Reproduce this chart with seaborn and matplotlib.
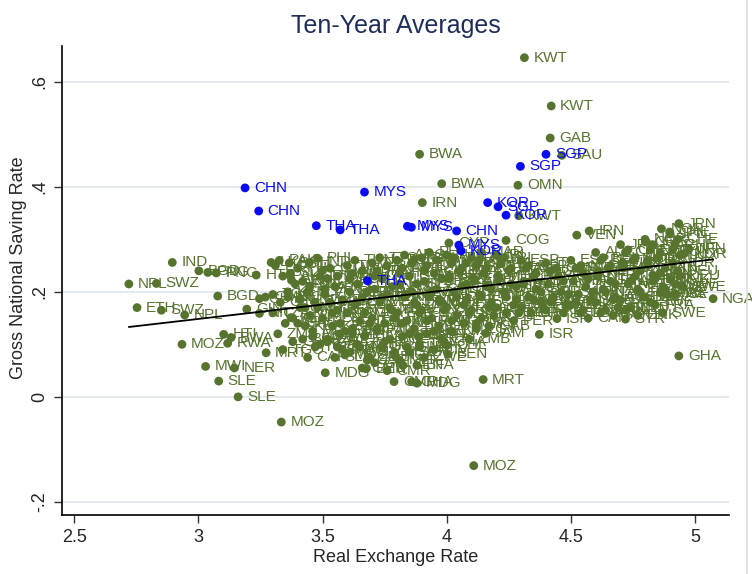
import numpy as np
import pandas as pd
import matplotlib
matplotlib.use("Agg")
import matplotlib.pyplot as plt
from matplotlib.lines import Line2D
import seaborn as sns

# highlighted (blue) economies
hi_codes = ["CHN", "CHN", "THA", "THA", "MYS", "MYS", "MYS", "THA",
            "CHN", "MYS", "KOR", "KOR", "SGP", "KOR", "SGP", "SGP"]
hi_rer = [3.188, 3.243, 3.475, 3.571, 3.669, 3.842, 3.858, 3.681,
          4.040, 4.049, 4.058, 4.165, 4.207, 4.239, 4.297, 4.400]
hi_sav = [0.398, 0.354, 0.326, 0.318, 0.390, 0.325, 0.323, 0.221,
          0.316, 0.289, 0.278, 0.370, 0.362, 0.346, 0.439, 0.462]

# labelled outliers, low exchange rate side
low_codes = ["NPL", "SWZ", "ETH", "SWZ", "NPL", "IND", "BGD", "PNG", "PNG", "HTI",
             "BGD", "MOZ", "HTI", "RWA", "BWA", "MRT", "MWI", "NER", "SLE", "SLE",
             "MOZ", "SLV", "GIN", "NIC", "KEN", "LKA", "PAK", "BOL", "HND", "PHL",
             "GUY", "GMB", "TGO"]
low_rer = [2.720, 2.831, 2.753, 2.851, 2.945, 2.895, 3.002, 3.038, 3.072, 3.233,
           3.078, 2.934, 3.102, 3.118, 3.132, 3.273, 3.029, 3.145, 3.082, 3.160,
           3.334, 3.375, 3.195, 3.246, 3.373, 3.293, 3.326, 3.366, 3.447, 3.480,
           3.246, 3.270, 3.300]
low_sav = [0.215, 0.216, 0.170, 0.165, 0.156, 0.256, 0.240, 0.237, 0.236, 0.232,
           0.192, 0.100, 0.119, 0.102, 0.113, 0.084, 0.058, 0.055, 0.030, 0.000,
           -0.048, 0.222, 0.167, 0.159, 0.151, 0.256, 0.260, 0.255, 0.256, 0.264,
           0.187, 0.190, 0.195]

# labelled outliers, middle and high exchange rate side
out_codes = ["MDG", "BEN", "SEN", "CMR", "GHA", "MDG", "SLE", "CHL", "BEN", "NER",
             "CYP", "KWT", "KWT", "GAB", "SAU", "BWA", "BWA", "OMN", "IRN", "KWT",
             "COG", "VEN", "IRN", "NOR", "NOR", "CHE", "JPN", "JPN", "NOR", "NGA",
             "GHA", "SYR", "SWE", "DNK", "ISR", "ISR", "JAM", "MRT", "MOZ"]
out_rer = [3.511, 3.677, 3.824, 3.788, 3.859, 3.880, 3.841, 4.002, 4.006, 3.886,
           4.009, 4.313, 4.421, 4.417, 4.464, 3.891, 3.980, 4.287, 3.902, 4.290,
           4.239, 4.524, 4.574, 4.799, 4.865, 4.898, 4.935, 4.975, 4.957, 5.073,
           4.935, 4.720, 4.860, 4.830, 4.444, 4.373, 4.157, 4.147, 4.109]
out_sav = [0.046, 0.054, 0.060, 0.029, 0.029, 0.026, 0.095, 0.098, 0.081, 0.115,
           0.293, 0.646, 0.554, 0.493, 0.460, 0.462, 0.406, 0.403, 0.370, 0.345,
           0.298, 0.308, 0.316, 0.300, 0.320, 0.314, 0.330, 0.281, 0.273, 0.187,
           0.078, 0.148, 0.198, 0.232, 0.149, 0.119, 0.121, 0.033, -0.131]

# main cloud, developing economies
mid_codes = ["LKA", "PAK", "KEN", "GIN", "TZA", "UGA", "ZMB", "GHA", "TGO", "PHL",
             "BOL", "SLV", "HND", "NIC", "CMR", "CIV", "MLI", "BFA", "TCD", "CAF",
             "GTM", "DOM", "PRY", "EGY", "MAR", "SEN", "BEN", "KEN", "ZWE", "GHA",
             "MDG", "SLE", "IDN", "SYR",
             "TUN", "JOR", "ECU", "PER", "COL", "GUY", "JAM", "HTI", "TGO", "CIV",
             "ZMB", "MWI", "CAF", "GMB",
             "TTO", "PAN", "CRI", "URY", "BRA", "MEX", "TUR", "FJI", "LKA", "PAK",
             "BOL", "UGA", "NGA", "GIN", "CMR",
             "TGO", "ARG", "GTM", "HND", "SLV", "NIC", "DOM", "EGY", "MAR", "PRY",
             "KEN", "TZA", "SEN", "MLI", "BFA",
             "PHL", "IDN", "ECU", "PER", "COL", "VEN", "CHL", "URY", "JAM", "GUY",
             "BEN", "GHA", "CIV", "ZWE", "TGO"]
mid_rer = [3.31, 3.34, 3.36, 3.33, 3.30, 3.35, 3.32, 3.38, 3.34, 3.40,
           3.42, 3.44, 3.41, 3.43, 3.45, 3.40, 3.46, 3.42, 3.47, 3.44,
           3.50, 3.52, 3.55, 3.51, 3.53, 3.56, 3.50, 3.54, 3.57, 3.52,
           3.58, 3.55, 3.49, 3.48,
           3.60, 3.62, 3.64, 3.61, 3.66, 3.63, 3.60, 3.65, 3.62, 3.67,
           3.64, 3.61, 3.68, 3.66,
           3.70, 3.72, 3.74, 3.71, 3.76, 3.73, 3.78, 3.70, 3.75, 3.72,
           3.77, 3.74, 3.79, 3.71, 3.76,
           3.80, 3.82, 3.85, 3.81, 3.86, 3.83, 3.88, 3.80, 3.84, 3.87,
           3.82, 3.89, 3.85, 3.81, 3.88,
           3.90, 3.92, 3.95, 3.91, 3.96, 3.93, 3.98, 3.90, 3.94, 3.97,
           3.92, 3.99, 3.95, 3.91, 3.87]
mid_sav = [0.250, 0.230, 0.200, 0.180, 0.160, 0.140, 0.120, 0.105, 0.090, 0.245,
           0.220, 0.200, 0.185, 0.170, 0.155, 0.140, 0.125, 0.110, 0.095, 0.075,
           0.240, 0.225, 0.210, 0.195, 0.180, 0.165, 0.150, 0.135, 0.120, 0.105,
           0.090, 0.075, 0.230, 0.170,
           0.250, 0.235, 0.215, 0.200, 0.190, 0.175, 0.160, 0.145, 0.130, 0.115,
           0.100, 0.085, 0.070, 0.055,
           0.255, 0.240, 0.225, 0.205, 0.195, 0.180, 0.165, 0.150, 0.140, 0.125,
           0.110, 0.095, 0.080, 0.065, 0.050,
           0.260, 0.245, 0.230, 0.215, 0.200, 0.190, 0.175, 0.160, 0.145, 0.130,
           0.115, 0.100, 0.085, 0.070, 0.060,
           0.265, 0.250, 0.235, 0.220, 0.205, 0.190, 0.180, 0.165, 0.150, 0.135,
           0.120, 0.105, 0.090, 0.075, 0.262]

# more of the dense developing cloud
mid2_codes = ["SLV", "HND", "NIC", "CMR", "CIV", "LKA", "PAK", "KEN", "UGA", "TZA",
              "GTM", "DOM", "PRY", "EGY", "MAR", "SEN", "BEN", "ZWE", "GHA", "MDG",
              "TUN", "JOR", "ECU", "PER", "COL", "GUY", "JAM", "HTI", "TGO", "ZMB",
              "TTO", "PAN", "CRI", "URY", "BRA", "MEX", "TUR", "FJI", "BOL", "NGA",
              "ARG", "GTM", "HND", "SLV", "NIC", "DOM", "EGY", "KEN", "SEN", "MLI",
              "PHL", "IDN", "ECU", "PER", "COL", "VEN", "CHL", "JAM", "BEN", "CIV"]
mid2_rer = [3.37, 3.39, 3.36, 3.41, 3.38, 3.45, 3.47, 3.43, 3.46, 3.49,
            3.53, 3.56, 3.51, 3.58, 3.54, 3.57, 3.59, 3.52, 3.56, 3.59,
            3.63, 3.66, 3.61, 3.68, 3.64, 3.67, 3.69, 3.62, 3.65, 3.69,
            3.73, 3.76, 3.71, 3.78, 3.74, 3.77, 3.79, 3.72, 3.75, 3.79,
            3.83, 3.86, 3.81, 3.88, 3.84, 3.87, 3.89, 3.82, 3.85, 3.89,
            3.93, 3.96, 3.91, 3.98, 3.94, 3.97, 3.99, 3.92, 3.95, 3.98]
mid2_sav = [0.235, 0.215, 0.190, 0.170, 0.150, 0.210, 0.180, 0.135, 0.115, 0.100,
            0.245, 0.230, 0.205, 0.185, 0.160, 0.140, 0.125, 0.110, 0.095, 0.080,
            0.260, 0.240, 0.225, 0.200, 0.180, 0.160, 0.140, 0.120, 0.095, 0.075,
            0.265, 0.250, 0.230, 0.210, 0.190, 0.170, 0.150, 0.130, 0.105, 0.085,
            0.270, 0.255, 0.235, 0.215, 0.195, 0.180, 0.160, 0.140, 0.120, 0.095,
            0.275, 0.260, 0.240, 0.225, 0.200, 0.185, 0.165, 0.145, 0.125, 0.110]

# main cloud, middle income
upper_codes = ["TUR", "MEX", "BRA", "PAN", "CRI", "TTO", "FJI", "SYR", "JOR", "TUN",
               "CMR", "ZMB",
               "GRC", "PRT", "ESP", "ARG", "ECU", "VEN", "CHL", "COL", "URY", "GAB",
               "EGY", "DZA", "MAR",
               "IRL", "ITA", "MEX", "TUR", "TTO", "PAN", "BRA", "CRI", "JOR", "PER",
               "ESP", "ISR", "NZL", "PRT", "GRC", "ARG", "CYP", "MLT", "URY",
               "TUR", "MEX", "BRA", "PAN", "CRI", "TTO", "SYR", "JOR",
               "GRC", "PRT", "ESP", "ARG", "ECU", "CHL", "COL", "URY",
               "IRL", "ITA", "MEX", "TTO", "BRA", "CRI", "PER",
               "ESP", "ISR", "NZL", "PRT", "GRC", "CYP"]
upper_rer = [4.00, 4.02, 4.05, 4.01, 4.06, 4.03, 4.08, 4.00, 4.04, 4.07,
             4.02, 4.09,
             4.10, 4.12, 4.15, 4.11, 4.16, 4.13, 4.18, 4.10, 4.14, 4.17,
             4.12, 4.08, 4.14,
             4.20, 4.22, 4.25, 4.21, 4.26, 4.23, 4.28, 4.20, 4.24, 4.27,
             4.30, 4.32, 4.35, 4.31, 4.36, 4.33, 4.38, 4.30, 4.34,
             4.03, 4.06, 4.01, 4.08, 4.04, 4.07, 4.09, 4.02,
             4.13, 4.16, 4.11, 4.18, 4.14, 4.17, 4.19, 4.12,
             4.23, 4.26, 4.21, 4.28, 4.24, 4.27, 4.29,
             4.33, 4.36, 4.31, 4.38, 4.35, 4.39]
upper_sav = [0.270, 0.255, 0.240, 0.225, 0.210, 0.200, 0.185, 0.170, 0.155, 0.140,
             0.125, 0.110,
             0.265, 0.250, 0.235, 0.220, 0.210, 0.195, 0.180, 0.165, 0.150, 0.135,
             0.130, 0.255, 0.275,
             0.270, 0.255, 0.240, 0.225, 0.215, 0.200, 0.185, 0.170, 0.160, 0.145,
             0.260, 0.245, 0.230, 0.215, 0.205, 0.190, 0.180, 0.170, 0.160,
             0.265, 0.245, 0.230, 0.215, 0.190, 0.175, 0.160, 0.145,
             0.260, 0.245, 0.225, 0.205, 0.190, 0.170, 0.155, 0.140,
             0.265, 0.245, 0.230, 0.210, 0.190, 0.175, 0.160,
             0.250, 0.235, 0.220, 0.200, 0.185, 0.170]

# main cloud, industrial economies
rich_codes = ["ITA", "GBR", "AUS", "CAN", "USA", "IRL", "NZL", "FRA", "BEL", "ESP",
              "NLD", "AUT", "FIN", "ISL", "DNK", "SWE", "GBR", "USA", "CAN",
              "AUT", "BEL", "FRA", "NLD", "FIN", "ITA", "AUS", "ISL", "DNK", "SWE",
              "JPN", "CHE", "NOR", "LUX", "DEU", "AUT", "FRA", "BEL", "NLD", "DNK",
              "CHE", "NOR", "DEU", "LUX", "FIN", "DNK", "SWE", "DNK", "FRA", "SWE",
              "JPN", "CHE", "LUX", "NOR", "DEU", "DNK", "SWE", "ISL",
              "GBR", "AUS", "CAN", "USA", "NLD", "AUT", "FIN", "ISL", "DNK",
              "BEL", "FRA", "NLD", "FIN", "ITA", "AUS", "ISL", "DNK",
              "CHE", "NOR", "LUX", "DEU", "AUT", "FRA", "BEL", "NLD",
              "NOR", "DEU", "LUX", "FIN", "DNK", "SWE", "FRA", "SWE",
              "JPN", "CHE", "DEU", "SWE"]
rich_rer = [4.40, 4.42, 4.45, 4.41, 4.46, 4.43, 4.48, 4.40, 4.47, 4.50,
            4.52, 4.55, 4.51, 4.56, 4.53, 4.58, 4.50, 4.54, 4.57,
            4.60, 4.62, 4.65, 4.61, 4.66, 4.63, 4.68, 4.60, 4.64, 4.67,
            4.70, 4.72, 4.75, 4.71, 4.76, 4.73, 4.78, 4.70, 4.74, 4.77,
            4.80, 4.82, 4.85, 4.81, 4.86, 4.83, 4.88, 4.80, 4.84, 4.87,
            4.90, 4.92, 4.94, 4.91, 4.93, 4.90, 4.95, 4.92,
            4.44, 4.47, 4.49, 4.42, 4.54, 4.57, 4.59, 4.52, 4.55,
            4.63, 4.66, 4.61, 4.68, 4.64, 4.67, 4.69, 4.62,
            4.73, 4.76, 4.71, 4.78, 4.74, 4.77, 4.79, 4.72,
            4.83, 4.86, 4.81, 4.88, 4.84, 4.87, 4.89, 4.82,
            4.91, 4.93, 4.94, 4.92]
rich_sav = [0.255, 0.240, 0.230, 0.215, 0.200, 0.190, 0.175, 0.165, 0.160, 0.260,
            0.245, 0.235, 0.220, 0.210, 0.195, 0.185, 0.175, 0.160, 0.150,
            0.275, 0.260, 0.245, 0.230, 0.220, 0.205, 0.190, 0.180, 0.165, 0.155,
            0.290, 0.275, 0.260, 0.245, 0.230, 0.215, 0.200, 0.185, 0.170, 0.155,
            0.295, 0.280, 0.265, 0.250, 0.235, 0.220, 0.205, 0.190, 0.175, 0.160,
            0.310, 0.290, 0.270, 0.255, 0.240, 0.225, 0.210, 0.195,
            0.245, 0.220, 0.195, 0.180, 0.250, 0.225, 0.200, 0.180, 0.165,
            0.265, 0.250, 0.240, 0.215, 0.200, 0.185, 0.170, 0.160,
            0.280, 0.265, 0.255, 0.240, 0.220, 0.205, 0.190, 0.165,
            0.290, 0.275, 0.260, 0.245, 0.225, 0.210, 0.195, 0.180,
            0.280, 0.300, 0.230, 0.215]

# fitted line (all observations)
fit_intercept = -0.0157
fit_slope = 0.0547

green = "#56742e"
blue = "#0a0af5"

others = pd.DataFrame({
    "code": low_codes + out_codes + mid_codes + mid2_codes + upper_codes + rich_codes,
    "rer": low_rer + out_rer + mid_rer + mid2_rer + upper_rer + rich_rer,
    "sav": low_sav + out_sav + mid_sav + mid2_sav + upper_sav + rich_sav,
})
others["grp"] = "other"
high = pd.DataFrame({"code": hi_codes, "rer": hi_rer, "sav": hi_sav})
high["grp"] = "east asia"
df = pd.concat([others, high], ignore_index=True)

sns.set_style("white")
plt.rcParams["font.family"] = ["Liberation Sans", "DejaVu Sans"]

fig = plt.figure(figsize=(7.52, 5.74), dpi=100)
ax = fig.add_axes([62.3 / 752, 1 - 515 / 574, (729 - 62.3) / 752, (515 - 45.6) / 574])

for yv in [-0.2, 0, 0.2, 0.4, 0.6]:
    ax.axhline(yv, color="#e3e8f0", lw=1.3, zorder=0)

sns.scatterplot(data=df[df.grp == "other"], x="rer", y="sav", color=green,
                s=40, edgecolor="none", linewidth=0, ax=ax, zorder=2, legend=False)
for c, xv, yv in zip(others.code, others.rer, others.sav):
    ax.annotate(c, (xv, yv), xytext=(6.5, 0), textcoords="offset points",
                va="center", ha="left", fontsize=11, color=green,
                annotation_clip=False, zorder=2)

xfit = np.array([df.rer.min(), df.rer.max()])
sns.lineplot(x=xfit, y=fit_intercept + fit_slope * xfit, color="black",
             lw=1.3, ax=ax, zorder=3)

sns.scatterplot(data=df[df.grp == "east asia"], x="rer", y="sav", color=blue,
                s=40, edgecolor="none", linewidth=0, ax=ax, zorder=4, legend=False)
for c, xv, yv in zip(high.code, high.rer, high.sav):
    ax.annotate(c, (xv, yv), xytext=(6.5, 0), textcoords="offset points",
                va="center", ha="left", fontsize=11, color=blue,
                annotation_clip=False, zorder=4)

ax.set_xlim(2.452, 5.137)
ax.set_ylim(-0.225, 0.669)
ax.set_xticks([2.5, 3, 3.5, 4, 4.5, 5])
ax.set_xticklabels(["2.5", "3", "3.5", "4", "4.5", "5"])
ax.set_yticks([-0.2, 0, 0.2, 0.4, 0.6])
ax.set_yticklabels(["-.2", "0", ".2", ".4", ".6"], rotation=90, va="center")
ax.tick_params(axis="both", direction="out", length=6, width=1, color="#333333",
               labelsize=13, pad=4, left=True, bottom=True)
for side in ["top", "right"]:
    ax.spines[side].set_visible(False)
for side in ["left", "bottom"]:
    ax.spines[side].set_color("black")
    ax.spines[side].set_linewidth(1.2)

ax.set_xlabel("Real Exchange Rate", fontsize=13, labelpad=2)
ax.set_ylabel("Gross National Saving Rate", fontsize=13)
ax.yaxis.set_label_coords(-0.053, 0.526)
ax.set_title("Ten-Year Averages", fontsize=18, color="#1e2d5c", pad=9)

fig.add_artist(Line2D([747 / 752, 747 / 752], [0, 1], color="#dedede", lw=1.2))

fig.savefig("out.png", dpi=100)
